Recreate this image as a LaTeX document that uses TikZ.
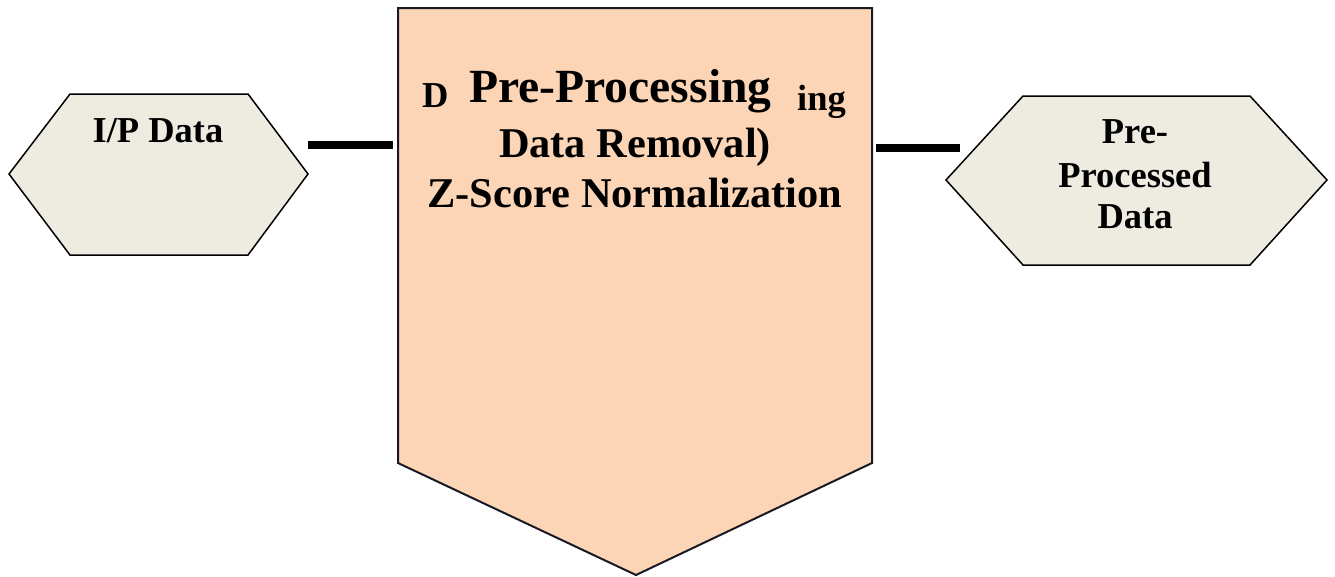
\documentclass[tikz,border=0pt]{standalone}
\usepackage{fontspec}
\setmainfont{Liberation Serif}
\definecolor{peach}{HTML}{FBD5B5}
\definecolor{tan}{HTML}{EEECE1}
\definecolor{edge}{HTML}{1A1A24}
\tikzset{
  hexshape/.style={fill=tan, draw=black, line width=1.5pt, line join=miter},
  procshape/.style={fill=peach, draw=edge, line width=2pt, line join=miter},
  bar/.style={draw=black, line width=8pt},
  lbl/.style={inner sep=0pt, anchor=base, font=\bfseries\fontsize{36.5}{42}\selectfont},
  biglbl/.style={inner sep=0pt, anchor=base, font=\bfseries\fontsize{42.4}{48}\selectfont},
}
\begin{document}
\begin{tikzpicture}[x=1pt,y=-1pt]
\useasboundingbox (0,0) rectangle (1335,576);

% input hexagon
\draw[hexshape] (70,94) -- (248,94) -- (308,174) -- (248,255) -- (70,255) -- (9,174) -- cycle;
\node[lbl] (inp) at (158,142) {I/P Data};

% processing block (downward pentagon arrow)
\draw[procshape] (398,8) -- (872,8) -- (872,463) -- (636,575) -- (398,463) -- cycle;
\node[lbl, anchor=base west] (pd) at (422,107) {D};
\node[biglbl, anchor=base west, font=\bfseries\fontsize{47.6}{52}\selectfont] (pt) at (469,102) {Pre-Processing};
\node[lbl, anchor=base west] (pi) at (797,110) {ing};
\node[biglbl] (pr) at (635,157) {Data Removal)};
\node[biglbl] (pz) at (635,207) {Z-Score Normalization};

% output hexagon
\draw[hexshape] (1023,96) -- (1250,96) -- (1327,180) -- (1250,265) -- (1023,265) -- (946,180) -- cycle;
\node[lbl] (o1) at (1135,143) {Pre-};
\node[lbl] (o2) at (1135,187) {Processed};
\node[lbl] (o3) at (1135,228) {Data};

% connectors
\coordinate (a1) at (308,145);
\coordinate (a2) at (393,145);
\coordinate (b1) at (876,148);
\coordinate (b2) at (960,148);
\draw[bar] (a1) -- (a2);
\draw[bar] (b1) -- (b2);
\end{tikzpicture}
\end{document}
